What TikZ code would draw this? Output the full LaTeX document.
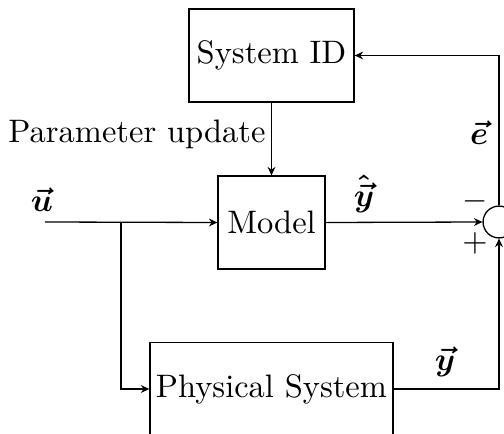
\documentclass[tikz,border=0pt]{standalone}
\usepackage{amsmath}
\usepackage{bm}
\usetikzlibrary{arrows.meta}

\begin{document}
\begin{tikzpicture}[
  x=0.3077pt, y=-0.3077pt,
  >={Stealth[length=2.6pt,width=2.4pt]},
  block/.style={draw, rectangle, inner sep=0pt, minimum height=28.6pt},
  sumjunction/.style={draw, circle, inner sep=0pt, minimum size=9.8pt},
  lbl/.style={inner sep=0pt}
]
  % frame of the page, also cutting off the parts that run past it
  \useasboundingbox (0,0) rectangle (504,434);
  \clip (0,0) rectangle (504,434);

  % blocks
  \node[block, minimum width=50.8pt] (sysid) at (271.5,55.5) {System ID};
  \node[block, minimum width=32.9pt] (model) at (271.5,222.5) {Model};
  \node[block, minimum width=74.8pt] (phys) at (271.5,389) {Physical System};
  \node[sumjunction] (sum) at (499,222) {};

  % input and branch point
  \coordinate (uin) at (45,222);
  \coordinate (br) at (121,222);

  % connectors
  \draw[->] (uin) -- (model.west);
  \draw[->] (br) |- (phys.west);
  \draw[->] (sysid.south) -- (model.north);
  \draw[->] (model.east) -- (sum.west);
  \draw[->] (phys.east) -| (sum.south);
  \draw[->] (sum.north) |- (sysid.east);

  % labels
  \node[lbl] (ulbl) at (42,200) {$\bm{\vec{u}}$};
  \node[lbl] (yhatlbl) at (364,194) {$\bm{\hat{\vec{y}}}$};
  \node[lbl] (elbl) at (479,133) {$\bm{\vec{e}}$};
  \node[lbl] (ylbl) at (445,362) {$\bm{\vec{y}}$};
  \node[lbl] (minus) at (475,201) {$-$};
  \node[lbl] (plus) at (475,243) {$+$};
  \node[lbl] (paramlbl) at (137,134) {Parameter update};
\end{tikzpicture}
\end{document}
